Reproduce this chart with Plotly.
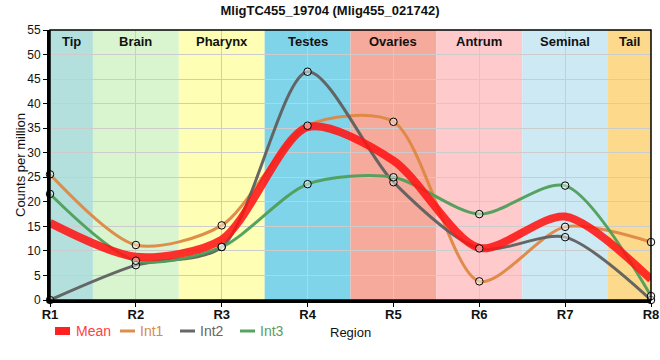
import plotly.graph_objects as go

regions = ["R1", "R2", "R3", "R4", "R5", "R6", "R7", "R8"]
tissues = ["Tip", "Brain", "Pharynx", "Testes", "Ovaries", "Antrum", "Seminal", "Tail"]
tissue_colors = ["#b3e0dc", "#d8f5d0", "#fefeb4", "#80d4ea", "#f5aa9c", "#fecacb", "#cdeaf4", "#fdda8b"]

mean_vals = [15.7, 8.8, 12.3, 35.2, 28.4, 10.6, 17.0, 4.2]
int1_vals = [25.6, 11.2, 15.2, 35.5, 36.3, 3.8, 14.9, 11.8]
int2_vals = [0.0, 7.1, 10.8, 46.5, 24.0, 10.5, 12.8, 0.0]
int3_vals = [21.6, 8.0, 10.8, 23.6, 25.0, 17.5, 23.3, 0.8]

series = [
    ("Int1", int1_vals, "rgba(222,135,66,0.95)", "#d98a4e"),
    ("Int2", int2_vals, "rgba(95,95,95,0.95)", "#666666"),
    ("Int3", int3_vals, "rgba(78,158,88,0.95)", "#5a9e63"),
]
mean_color = "rgba(255,20,20,0.88)"
mean_text_color = "#ff4040"

L, R, T, B, W, H = 50, 9, 30, 60, 660, 360
PW, PH = W - L - R, H - T - B


def px(x):
    return (x - L) / PW


def py(y):
    return (H - B - y) / PH


xs = list(range(1, len(regions) + 1))
fig = go.Figure()

shapes = []
annotations = []
for i, (t, c) in enumerate(zip(tissues, tissue_colors)):
    x0 = max(1, xs[i] - 0.5)
    x1 = min(len(regions), xs[i] + 0.5)
    shapes.append(dict(type="rect", xref="x", yref="paper", x0=x0, x1=x1, y0=0, y1=1,
                       fillcolor=c, line=dict(width=0), layer="below"))
    annotations.append(dict(x=(x0 + x1) / 2, y=1, xref="x", yref="paper", yanchor="top",
                            yshift=-2, text="<b>%s</b>" % t, showarrow=False,
                            font=dict(size=13, color="#111111", family="Liberation Sans, Arial")))

for name, vals, col, tcol in series:
    fig.add_trace(go.Scatter(x=xs, y=vals, mode="lines", name=name, showlegend=False,
                             line=dict(color=col, width=3, shape="spline", smoothing=0.8)))

fig.add_trace(go.Scatter(x=xs, y=mean_vals, mode="lines", name="Mean", showlegend=False,
                         line=dict(color=mean_color, width=8, shape="spline", smoothing=0.8)))

for name, vals, col, tcol in series:
    fig.add_trace(go.Scatter(x=xs, y=vals, mode="markers", showlegend=False, cliponaxis=False,
                             marker=dict(size=7.5, color="rgba(255,255,255,0.45)",
                                         line=dict(color="black", width=1))))

shapes.append(dict(type="rect", xref="paper", yref="paper", x0=0, x1=1, y0=0, y1=1,
                   line=dict(color="black", width=1.5), layer="above"))

# manual legend
legend_items = [("Mean", mean_color, mean_text_color, 55, 74, True)] + [
    (name, col, tcol, 120 + 60 * k, 138 + 60 * k, False) for k, (name, vals, col, tcol) in enumerate(series)
]
ly = 331
for name, col, tcol, sx, tx, thick in legend_items:
    if thick:
        shapes.append(dict(type="rect", xref="paper", yref="paper", x0=px(sx), x1=px(sx + 15),
                           y0=py(ly + 4), y1=py(ly - 4), fillcolor="#ff2020",
                           line=dict(width=0), layer="above"))
    else:
        shapes.append(dict(type="line", xref="paper", yref="paper", x0=px(sx), x1=px(sx + 15),
                           y0=py(ly), y1=py(ly), line=dict(color=col, width=3), layer="above"))
    annotations.append(dict(x=px(tx), y=py(ly), xref="paper", yref="paper", xanchor="left",
                            yanchor="middle", text=name, showarrow=False,
                            font=dict(size=14, color=tcol, family="Liberation Sans, Arial")))

# axis titles
annotations.append(dict(x=0.5, y=py(332), xref="paper", yref="paper", xanchor="center",
                        yanchor="middle", text="Region", showarrow=False,
                        font=dict(size=13, color="#111", family="Liberation Sans, Arial")))
annotations.append(dict(x=px(20), y=0.5, xref="paper", yref="paper", xanchor="center",
                        yanchor="middle", text="Counts per million", showarrow=False, textangle=-90,
                        font=dict(size=13, color="#111", family="Liberation Sans, Arial")))

fig.update_layout(
    width=W, height=H,
    margin=dict(l=L, r=R, t=T, b=B),
    paper_bgcolor="white", plot_bgcolor="white",
    font=dict(family="Liberation Sans, Arial", size=12, color="#222"),
    title=dict(text="<b>MligTC455_19704 (Mlig455_021742)</b>", x=0.5, xanchor="center",
               y=1 - 10 / H, yref="container", yanchor="middle", font=dict(size=13, color="#111")),
    shapes=shapes, annotations=annotations,
    showlegend=False,
)
fig.update_xaxes(range=[1, 8], tickvals=xs, ticktext=["<b>%s</b>" % r for r in regions],
                 showgrid=True, gridcolor="#cccccc", gridwidth=1, layer="above traces",
                 showline=True, linecolor="black", linewidth=3, automargin=False,
                 ticklabeloverflow="allow", ticklabelstandoff=-4,
                 ticks="outside", ticklen=4, tickcolor="black",
                 tickfont=dict(size=13, color="#111"), zeroline=False)
fig.update_yaxes(range=[0, 55], dtick=5, showgrid=True, gridcolor="#cccccc", gridwidth=1,
                 layer="above traces", automargin=False,
                 showline=True, linecolor="black", linewidth=3, zeroline=False,
                 ticks="outside", ticklen=4, tickcolor="black",
                 tickfont=dict(size=12, color="#111"))

fig.write_html("out.html", post_script="document.body.style.margin='0';",
               config={"displayModeBar": False})
